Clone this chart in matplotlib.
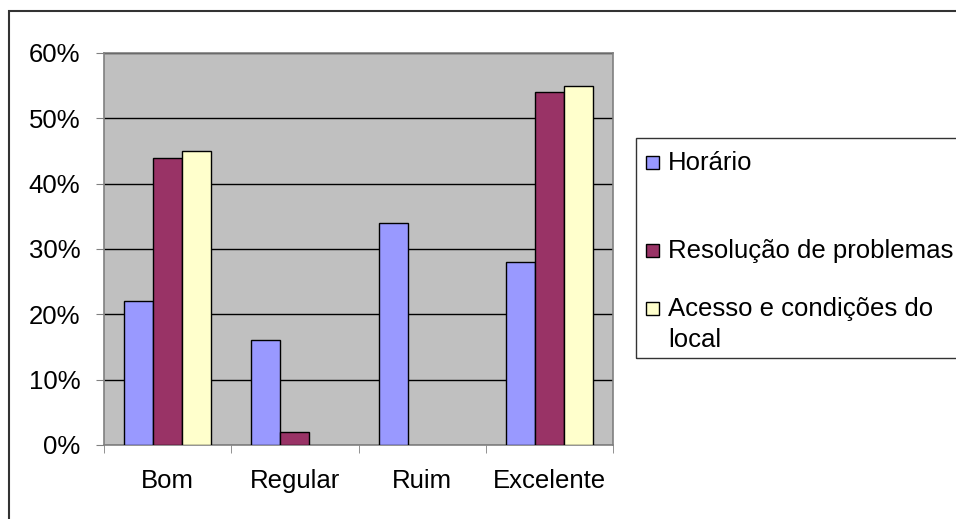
import numpy as np
import matplotlib.pyplot as plt
from matplotlib.patches import Rectangle

plt.rcParams['font.family'] = ['Liberation Sans', 'DejaVu Sans']

categories = ['Bom', 'Regular', 'Ruim', 'Excelente']
series = ['Horário', 'Resolução de problemas', 'Acesso e condições do\nlocal']
horario = [22, 16, 34, 28]
resolucao = [44, 2, 0, 54]
acesso = [45, 0, 0, 55]
colors = ['#9999FF', '#993366', '#FFFFCC']

W, H = 956, 519
fig = plt.figure(figsize=(W / 100, H / 100), dpi=100)
ax = fig.add_axes([104 / W, 1 - 445 / H, (613 - 104) / W, (445 - 53) / H])
ax.set_facecolor('#C0C0C0')

x = np.arange(len(categories))
w = 0.228
for j, vals in enumerate([horario, resolucao, acesso]):
    lw = [1 if v > 0 else 0 for v in vals]
    ax.bar(x + (j - 1) * w, vals, width=w, color=colors[j],
           edgecolor='black', linewidth=lw, zorder=3)

ax.set_xlim(-0.5, len(categories) - 0.5)
ax.set_ylim(0, 60)
ax.set_yticks(range(0, 61, 10))
ax.set_yticklabels([f'{v}%' for v in range(0, 61, 10)])
ax.yaxis.grid(True, color='black', linewidth=1, zorder=1)
ax.set_axisbelow(True)

ax.set_xticks(x)
ax.set_xticklabels(categories)
ax.set_xticks(np.arange(-0.5, len(categories)), minor=True)
ax.tick_params(axis='x', which='major', length=0, pad=17, labelsize=18.5)
ax.tick_params(axis='x', which='minor', length=6, color='#808080', direction='out')
ax.tick_params(axis='y', length=6, color='#808080', pad=11, labelsize=18.5)
for s in ax.spines.values():
    s.set_color('#808080')
    s.set_linewidth(1.2)


def fx(px):
    return px / W


def fy(py):
    return 1 - py / H


# legend box (runs off the right edge as in the original)
fig.patches.append(Rectangle((fx(636), fy(358)), 0.5, (358 - 138) / H,
                             transform=fig.transFigure, fill=False,
                             edgecolor='#333333', linewidth=1))
baselines = [170, 258, 316]
for c, lab, b in zip(colors, series, baselines):
    fig.patches.append(Rectangle((fx(646), fy(b - 1)), 13 / W, 13 / H,
                                 transform=fig.transFigure, facecolor=c,
                                 edgecolor='black', linewidth=1))
    fig.text(fx(668), fy(b), lab.split('\n')[0], fontsize=18.5, va='baseline')
    if '\n' in lab:
        fig.text(fx(668), fy(b + 31), lab.split('\n')[1], fontsize=18.5, va='baseline')

fig.patches.append(Rectangle((fx(9), -0.1), 1.2, 1.1 - 11 / H,
                             transform=fig.transFigure, fill=False,
                             edgecolor='#333333', linewidth=1.5))

fig.savefig('out.png', dpi=100)
